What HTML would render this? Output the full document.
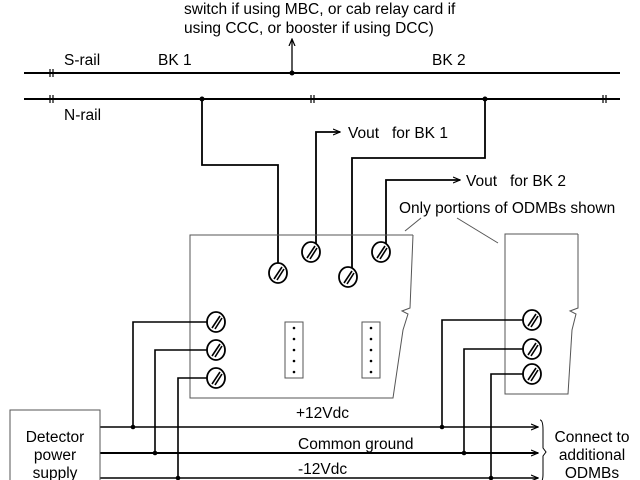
<!DOCTYPE html>
<html><head><style>body{margin:0;background:#fff}svg{display:block}text{font-family:"Liberation Sans",Arial,sans-serif;font-size:15.5px;fill:#000}</style></head>
<body>
<svg width="640" height="480" viewBox="0 0 640 480" xmlns="http://www.w3.org/2000/svg">
<defs>
<marker id="ar" markerWidth="8" markerHeight="8" refX="7" refY="4" orient="auto" markerUnits="userSpaceOnUse"><path d="M0,1 L7,4 L0,7" fill="none" stroke="#000" stroke-width="1.2"/></marker>
<g id="t"><ellipse rx="9" ry="10" fill="#fff" stroke="#000" stroke-width="1.8"/><path d="M-4,6 L4,-6 M-1,7 L6,-4" stroke="#000" stroke-width="1.6"/></g>
</defs>
<text x="184" y="14">switch if using MBC, or cab relay card if</text>
<text x="184" y="33">using CCC, or booster if using DCC)</text>
<text x="64" y="65">S-rail</text><text x="158" y="65">BK 1</text><text x="432" y="65">BK 2</text>
<text x="64" y="120">N-rail</text>
<g stroke="#000" fill="none" stroke-width="2">
<line x1="24" y1="73" x2="620" y2="73"/>
<line x1="24" y1="99" x2="620" y2="99"/>
</g>
<g stroke="#000" stroke-width="1.2">
<line x1="50" y1="69" x2="50" y2="77"/><line x1="53" y1="69" x2="53" y2="77"/>
<line x1="50" y1="95" x2="50" y2="103"/><line x1="53" y1="95" x2="53" y2="103"/>
<line x1="311" y1="95" x2="311" y2="103"/><line x1="314" y1="95" x2="314" y2="103"/>
<line x1="603" y1="95" x2="603" y2="103"/><line x1="606" y1="95" x2="606" y2="103"/>
</g>
<line x1="292" y1="73" x2="292" y2="39" stroke="#000" stroke-width="1.3" marker-end="url(#ar)"/>
<g fill="#000"><circle cx="292" cy="73" r="2.5"/><circle cx="202" cy="99" r="2.5"/><circle cx="485" cy="99" r="2.5"/></g>
<g stroke="#000" stroke-width="1.8" fill="none">
<polyline points="202,99 202,165 278,165 278,273"/>
<polyline points="485,99 485,158 352,158 352,277"/>
<polyline points="316,252 316,132 340,132" marker-end="url(#ar)"/>
<polyline points="386,252 386,180 460,180" marker-end="url(#ar)"/>
</g>
<text x="348" y="138">Vout&#160;&#160; for BK 1</text>
<text x="466" y="186">Vout&#160;&#160; for BK 2</text>
<text x="399" y="213">Only portions of ODMBs shown</text>
<g stroke="#555" stroke-width="1" fill="none">
<line x1="421" y1="218" x2="405" y2="231"/>
<line x1="457" y1="218" x2="498" y2="243"/>
<polyline points="413,235 190,235 190,398 393,398 403,330 408,314 402,311 410,308 413,235"/>
<polyline points="578,234 505,234 505,394 568,394 572,330 576,314 570,311 578,308 578,234"/>
<rect x="285" y="322" width="18" height="56"/><rect x="362" y="322" width="18" height="56"/>
</g>
<g fill="#000"><circle cx="294" cy="328" r="1.3"/><circle cx="294" cy="339" r="1.3"/><circle cx="294" cy="350" r="1.3"/><circle cx="294" cy="361" r="1.3"/><circle cx="294" cy="372" r="1.3"/>
<circle cx="371" cy="328" r="1.3"/><circle cx="371" cy="339" r="1.3"/><circle cx="371" cy="350" r="1.3"/><circle cx="371" cy="361" r="1.3"/><circle cx="371" cy="372" r="1.3"/></g>
<g stroke="#000" stroke-width="1.6" fill="none">
<polyline points="216,322 133,322 133,427"/>
<polyline points="216,350 155,350 155,453"/>
<polyline points="216,378 178,378 178,478"/>
<polyline points="532,320 442,320 442,427"/>
<polyline points="532,349 464,349 464,453"/>
<polyline points="532,374 491,374 491,478"/>
<line x1="100" y1="427" x2="538" y2="427" marker-end="url(#ar)"/>
<line x1="100" y1="453" x2="538" y2="453" stroke-width="2" marker-end="url(#ar)"/>
<line x1="100" y1="478" x2="538" y2="478" marker-end="url(#ar)"/>
<path d="M540,420 Q543,420 543,430 L543,448 L546,452 L543,456 L543,474 Q543,482 540,482" stroke-width="1"/>
</g>
<g fill="#000"><circle cx="133" cy="427" r="2.3"/><circle cx="155" cy="453" r="2.3"/><circle cx="178" cy="478" r="2.3"/><circle cx="442" cy="427" r="2.3"/><circle cx="464" cy="453" r="2.3"/><circle cx="491" cy="478" r="2.3"/></g>
<use href="#t" x="278" y="273"/><use href="#t" x="311" y="252"/><use href="#t" x="348" y="277"/><use href="#t" x="381" y="252"/>
<use href="#t" x="216" y="322"/><use href="#t" x="216" y="350"/><use href="#t" x="216" y="378"/>
<use href="#t" x="532" y="320"/><use href="#t" x="532" y="349"/><use href="#t" x="532" y="374"/>
<rect x="10" y="410" width="90" height="80" fill="none" stroke="#555" stroke-width="1"/>
<text x="55" y="442" text-anchor="middle">Detector</text><text x="55" y="460" text-anchor="middle">power</text><text x="55" y="478" text-anchor="middle">supply</text>
<text x="296" y="418">+12Vdc</text><text x="298" y="449">Common ground</text><text x="298" y="474">-12Vdc</text>
<text x="592" y="442" text-anchor="middle">Connect to</text><text x="592" y="460" text-anchor="middle">additional</text><text x="592" y="478" text-anchor="middle">ODMBs</text>
</svg>
</body></html>
